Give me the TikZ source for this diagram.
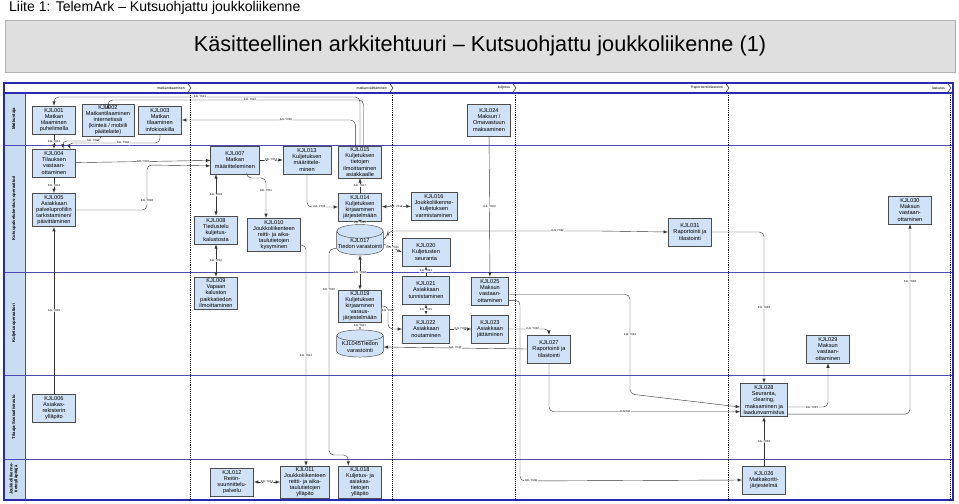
\documentclass[tikz,border=0pt]{standalone}
\usepackage{fontspec}
\setmainfont{Liberation Sans}
\usetikzlibrary{shapes.geometric,arrows,positioning}
\definecolor{boxfill}{HTML}{CFE2F7}
\definecolor{lanefill}{HTML}{C9DDF2}
\definecolor{framecol}{HTML}{2A2AB0}
\tikzset{
	kbox/.style={
		rectangle
		,draw=gray!60!black
		,fill=boxfill
		,align=center
		,font=\fontsize{4.8}{5.2}\selectfont
		,minimum width=1.3cm
		,minimum height=0.84cm
		,inner sep=0.6pt
	},
	kdb/.style={
		cylinder
		,shape border rotate=90
		,shape aspect=0.3
		,draw=gray!60!black
		,fill=boxfill
		,align=center
		,font=\fontsize{4.8}{5.2}\selectfont
		,minimum width=1.4cm
		,minimum height=0.8cm
		,inner sep=0.5pt
	},
	conn/.style={draw=gray!40!black,line width=0.35pt,-latex,rounded corners=4pt},
	conn2/.style={conn,latex-latex},
	lbl/.style={fill=white,inner sep=0.3pt,font=\fontsize{2.4}{2.6}\selectfont},
	lanelbl/.style={rotate=90,font=\bfseries\fontsize{3.6}{4}\selectfont,align=center},
	phase/.style={font=\fontsize{3}{3.4}\selectfont,anchor=east},
	divider/.style={densely dotted,line width=0.6pt}
}
\begin{document}
\begin{tikzpicture}[x=0.03cm,y=-0.03cm]
\useasboundingbox (0,0) rectangle (959,503);
% title area
\node[anchor=west,font=\fontsize{12}{13}\selectfont] (liite) at (5,8) {Liite 1: TelemArk -- Kutsuohjattu joukkoliikenne};
\draw[fill=gray!25,draw=gray!60] (5,20) rectangle (955,72);
\node[font=\fontsize{18.5}{20}\selectfont] (title) at (480,46) {Käsitteellinen arkkitehtuuri -- Kutsuohjattu joukkoliikenne (1)};
% lanes
\fill[lanefill] (4,93) rectangle (25,500);
\draw[gray!60!blue] (4,145) -- (953,145) (4,272) -- (953,272) (4,375) -- (953,375) (4,459) -- (953,459);
\draw[gray!60!blue] (25,93) -- (25,500);
\draw[framecol,line width=1.2pt] (4,83) rectangle (953,500);
\draw[framecol,line width=1.2pt] (4,93) -- (953,93);
\foreach \x/\t in {190/{matkantilaaminen},392/{matkanvälittäminen},515/{kuljetus},728/{Raportointi/tilastointi},950/{laskutus}}{
	\node[phase] at (\x-1,88) {\t};
	\draw[line width=0.4pt] (\x-2,84) -- (\x+1,88) -- (\x-2,92);
	\draw[divider] (\x,93) -- (\x,500);
}
\node[lanelbl] at (14,119) {Matkustaja};
\node[lanelbl] at (14,208) {Kutsupalvelukeskus-operaattori};
\node[lanelbl] at (14,323) {Kuljetusoperaattori};
\node[lanelbl] at (14,417) {Tilaaja-Sosiaalivirasto};
\node[lanelbl] at (14,479) {Joukkoliikenne-\\tietoylläpitäjä};
% boxes
\node[kbox] (k001) at (54,120) {KJL001\\Matkan\\tilaaminen\\puhelimella};
\node[kbox,minimum width=1.56cm,minimum height=0.96cm] (k002) at (108,120) {KJL002\\Matkantilaaminen\\internetissä\\(kiinteä / mobiili\\päätelaite)};
\node[kbox] (k003) at (160,120) {KJL003\\Matkan\\tilaaminen\\infokioskilla};
\node[kbox] (k004) at (54,163) {KJL004\\Tilauksen\\vastaan-\\ottaminen};
\node[kbox,minimum height=1cm] (k005) at (54,210) {KJL005\\Asiakkaan\\palveluprofiilin\\tarkistaminen/\\päivittäminen};
\node[kbox,minimum width=1.46cm] (k007) at (235,160) {KJL007\\Matkan\\määritteleminen};
\node[kbox,minimum width=1.44cm] (k013) at (307,160) {KJL013\\Kuljetuksen\\määrittele-\\minen};
\node[kbox,minimum height=0.96cm] (k015) at (360,162) {KJL015\\Kuljetuksen\\tietojen\\ilmoittaminen\\asiakkaalle};
\node[kbox] (k014) at (360,207) {KJL014\\Kuljetuksen\\kirjaaminen\\järjestelmään};
\node[kbox,minimum width=1.38cm] (k016) at (434,206) {KJL016\\Joukkoliikenne-\\kuljetuksen\\varmistaminen};
\node[kbox] (k008) at (216,230) {KJL008\\Tiedustelu\\kuljetus-\\kalustosta};
\node[kbox,minimum width=1.6cm,minimum height=1cm] (k010) at (274,235) {KJL010\\Joukkoliikenteen\\reitti- ja aika-\\taulutietojen\\kysyminen};
\node[kdb] (k017) at (360,244) {KJL017\\Tiedon varastointi};
\node[kbox,minimum width=1.44cm] (k020) at (426,252) {KJL020\\Kuljetusten\\seuranta};
\node[kbox,minimum height=0.96cm] (k024) at (489,120) {KJL024\\Maksun /\\Omavastuun\\maksaminen};
\node[kbox] (k031) at (690,232) {KJL031\\Raportointi ja\\tilastointi};
\node[kbox] (k030) at (910,210) {KJL030\\Maksun\\vastaan-\\ottaminen};
\node[kbox,minimum height=0.96cm] (k009) at (216,293) {KJL009\\Vapaan\\kaluston\\paikkatiedon\\ilmoittaminen};
\node[kbox,minimum height=0.96cm] (k019) at (360,306) {KJL019\\Kuljetuksen\\kirjaaminen\\varaus-\\järjestelmään};
\node[kdb] (k045) at (360,347) {KJL045Tiedon\\varastointi};
\node[kbox,minimum width=1.42cm] (k021) at (426,290) {KJL021\\Asiakkaan\\tunnistaminen};
\node[kbox,minimum width=1.42cm] (k022) at (426,329) {KJL022\\Asiakkaan\\noutaminen};
\node[kbox,minimum width=1.1cm] (k025) at (490,291) {KJL025\\Maksun\\vastaan-\\ottaminen};
\node[kbox,minimum width=1.1cm] (k023) at (490,329) {KJL023\\Asiakkaan\\jättäminen};
\node[kbox] (k027) at (549,349) {KJL027\\Raportointi ja\\tilastointi};
\node[kbox] (k029) at (828,349) {KJL029\\Maksun\\vastaan-\\ottaminen};
\node[kbox,minimum width=1.42cm,minimum height=1cm] (k028) at (764,400) {KJL028\\Seuranta,\\clearing,\\maksaminen ja\\laadunvarmistus};
\node[kbox] (k006) at (54,408) {KJL006\\Asiakas-\\rekisterin\\ylläpito};
\node[kbox] (k012) at (232,482) {KJL012\\Reitin-\\suunnittelu-\\palvelu};
\node[kbox,minimum width=1.48cm,minimum height=0.96cm] (k011) at (305,482) {KJL011\\Joukkoliikenteen\\reitti- ja aika-\\taulutietojen\\ylläpito};
\node[kbox,minimum height=0.96cm] (k018) at (360,482) {KJL018\\Kuljetus- ja\\asiakas-\\tietojen\\ylläpito};
\node[kbox] (k026) at (764,480) {KJL026\\Matkakortti-\\järjestelmä};
% connectors
\draw[conn] (k015.north) |- (200,97) node[lbl]{KJL Y021} -| (k001.north);
\draw[conn] ([xshift=3pt]k015.north) |- (250,100) node[lbl]{KJL Y022} -| (k002.north);
\draw[conn] ([xshift=-4pt]k015.north) |- (k003.east) node[lbl,pos=0.7]{KJL Y019};
\draw[conn] (k001) -- (k004) node[lbl,midway]{KJL Y001};
\draw[conn] ([xshift=-6pt]k002.south) |- (62,141) node[lbl,pos=0.6]{KJL Y002} -- ([xshift=8pt]k004.north);
\draw[conn] (k003.south) |- (68,143) node[lbl,pos=0.7]{KJL Y003} -- ([xshift=14pt]k004.north);
\draw[conn] (k004) -- (k007) node[lbl,midway]{KJL Y007};
\draw[conn] (k004) -- (k005) node[lbl,midway]{KJL Y004};
\draw[conn] (k005.east) -| (147,165) node[lbl,pos=0.6]{KJL Y008} -- ([yshift=-5pt]k007.west);
\draw[conn] (k007) -- (k013) node[lbl,midway]{KJL Y014};
\draw[conn2] (k007.south -| k008) -- (k008) node[lbl,midway]{KJL Y009};
\draw[conn] ([xshift=10pt]k007.south) |- (266,178) -- (k010.north -| 266,0) node[lbl,pos=0.3]{KJL Y011};
\draw[conn2] (k008) -- (k009) node[lbl,midway]{KJL Y010};
\draw[conn] (k013.south) |- (k014.west) node[lbl,pos=0.7]{KJL Y015};
\draw[conn] (k014) -- (k015) node[lbl,midway]{KJL Y017};
\draw[conn] (k014) -- (k017) node[lbl,midway]{KJL Y016};
\draw[conn2] (k014) -- (k016) node[lbl,midway]{KJL Y018};
\draw[conn] (k017.east) -- (k020.west) node[lbl,midway]{KJL Y024};
\draw[conn] (k021) -- (k020) node[lbl,midway]{KJL Y024};
\draw[conn2] (k017) -- (k019) node[lbl,midway]{KJL Y026};
\draw[conn] (k019) -- (k045) node[lbl,midway]{KJL Y031};
\draw[conn] (k019.east) -| (388,329) node[lbl,pos=0.6]{KJL Y027} -- (k022.west);
\draw[conn2] (k021) -- (k022) node[lbl,midway]{KJL Y025};
\draw[conn] (k022) -- (k023) node[lbl,midway]{KJL Y028};
\draw[conn] (k024) -- (k025) node[lbl,pos=0.5]{KJL Y029};
\draw[conn] ([yshift=4pt]k017.east) -- (388,236) |- (600,231) node[lbl,pos=0.9]{KJL Y032} -- (k031.west);
\draw[conn] (k027.west) -- (k045.east) node[lbl,midway]{KJL Y030};
\draw[conn] (k023.east) -| (k027.north) node[lbl,pos=0.3]{KJL Y023};
\draw[conn] ([yshift=-3pt]k025.east) -| (630,394) node[lbl,pos=0.7]{KJL Y033} -- ([yshift=-6pt]k028.west);
\draw[conn] (k027.south) |- ([yshift=-10pt]k028.west) node[lbl,pos=0.7]{KJL034};
\draw[conn] ([yshift=-8pt]k025.east) -| (520,481) -- (k026.west) node[lbl,pos=0.05]{KJL Y035};
\draw[conn] (k031.east) -| (k028.north) node[lbl,pos=0.75]{KJL Y036};
\draw[conn] ([yshift=-6pt]k028.east) -| (k029.south) node[lbl,pos=0.3]{KJL Y037};
\draw[conn] ([yshift=-12pt]k028.east) -| (k030.south) node[lbl,pos=0.85]{KJL Y038};
\draw[conn] (k026) -- (k028) node[lbl,midway]{KJL Y039};
\draw[conn] (k006) -- (k005) node[lbl,midway]{KJL Y005};
\draw[conn] (k010.east |- 0,245) -| (k011.north -| 306,0) node[lbl,pos=0.75]{KJL Y012};
\draw[conn2] (k012) -- (k011) node[lbl,midway]{KJL Y013};
\draw[conn] ([yshift=-4pt]k017.west) -| (329,455) node[lbl,pos=0.6]{KJL Y020} -| ([xshift=-10pt]k018.north);
\end{tikzpicture}
\end{document}
